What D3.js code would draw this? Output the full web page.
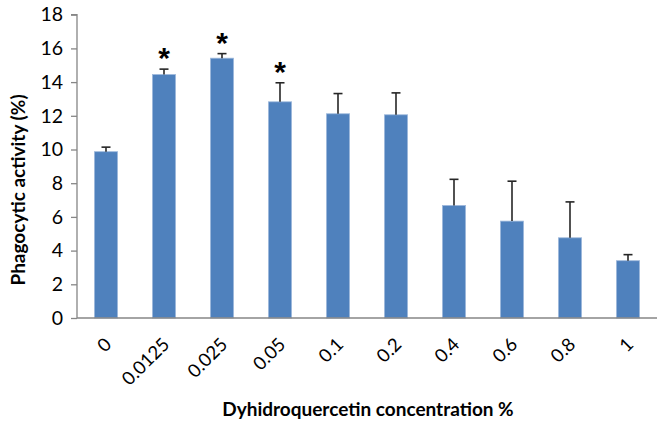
<!DOCTYPE html>
<html><head><meta charset="utf-8">
<script src="https://cdn.jsdelivr.net/npm/d3@7"></script>
<style>body{margin:0;background:#fff}svg{display:block}text{font-family:Lato,"Open Sans",sans-serif;fill:#000}</style>
</head><body>
<svg id="c" width="658" height="421"></svg>
<script>
const categories = ["0","0.0125","0.025","0.05","0.1","0.2","0.4","0.6","0.8","1"];
const values = [9.87, 14.45, 15.42, 12.83, 12.12, 12.06, 6.68, 5.75, 4.76, 3.4];
const errors = [0.27, 0.32, 0.27, 1.13, 1.2, 1.3, 1.55, 2.37, 2.13, 0.36];
const significant = [false, true, true, true, false, false, false, false, false, false];
const yTicks = [0,2,4,6,8,10,12,14,16,18];
const yLabel = "Phagocytic activity (%)";
const xLabel = "Dyhidroquercetin concentration %";

const svg = d3.select("#c");
const L = 77, R = 657, T = 14.7, B = 318;
const x = d3.scaleBand().domain(categories).range([L, R]).paddingInner(0.6).paddingOuter(0.3);
const y = d3.scaleLinear().domain([0, 18]).range([B, T]);

// y axis
const ya = svg.append("g").attr("transform", `translate(${L},0)`)
  .call(d3.axisLeft(y).tickValues(yTicks).tickSize(6).tickPadding(8));
ya.selectAll("path,line").attr("stroke", "#868686").attr("stroke-width", 1.3);
ya.select(".domain").attr("d", `M-6,${y(18)}H0V${B}`);
ya.selectAll("text").style("font-size", "19.5px").attr("fill", "#000");

// bars
svg.append("g").selectAll("rect").data(values).join("rect")
  .attr("x", (d, i) => x(categories[i]))
  .attr("y", d => y(d))
  .attr("width", x.bandwidth())
  .attr("height", d => B - y(d))
  .attr("fill", "#4F81BD").attr("stroke", "#9fb9dc").attr("stroke-width", 0.8);

// error bars
const eg = svg.append("g").attr("stroke", "#262626").attr("stroke-width", 1.6);
values.forEach((v, i) => {
  const cx = x(categories[i]) + x.bandwidth() / 2;
  eg.append("line").attr("x1", cx).attr("x2", cx).attr("y1", y(v)).attr("y2", y(v + errors[i]));
  eg.append("line").attr("x1", cx - 4.5).attr("x2", cx + 4.5).attr("y1", y(v + errors[i])).attr("y2", y(v + errors[i]));
});

// asterisks
const idx = d3.range(values.length).filter(i => significant[i]);
svg.append("g").selectAll("text").data(idx).join("text")
  .attr("x", i => x(categories[i]) + x.bandwidth() / 2)
  .attr("y", i => y(values[i] + errors[i]) - 1)
  .attr("text-anchor", "middle")
  .style("font-family", "'Liberation Sans', Arial, sans-serif")
  .style("font-size", "30px").style("font-weight", "bold")
  .text("*");

// x axis line
svg.append("line").attr("x1", L).attr("x2", R).attr("y1", B).attr("y2", B)
  .attr("stroke", "#868686").attr("stroke-width", 1.3);

// x tick labels
svg.append("g").selectAll("text").data(categories).join("text")
  .attr("transform", d => `translate(${x(d) + x.bandwidth() / 2 + 2},${B + 23}) rotate(-45)`)
  .attr("text-anchor", "end").attr("dy", "0.35em")
  .style("font-size", "18.5px")
  .text(d => d);

// axis titles
svg.append("text").attr("transform", "translate(25,190) rotate(-90)")
  .attr("text-anchor", "middle").style("font-size", "19px").style("font-weight", "bold")
  .text(yLabel);
svg.append("text").attr("x", 368).attr("y", 416)
  .attr("text-anchor", "middle").style("font-size", "19px").style("font-weight", "bold")
  .text(xLabel);
</script>
</body></html>
